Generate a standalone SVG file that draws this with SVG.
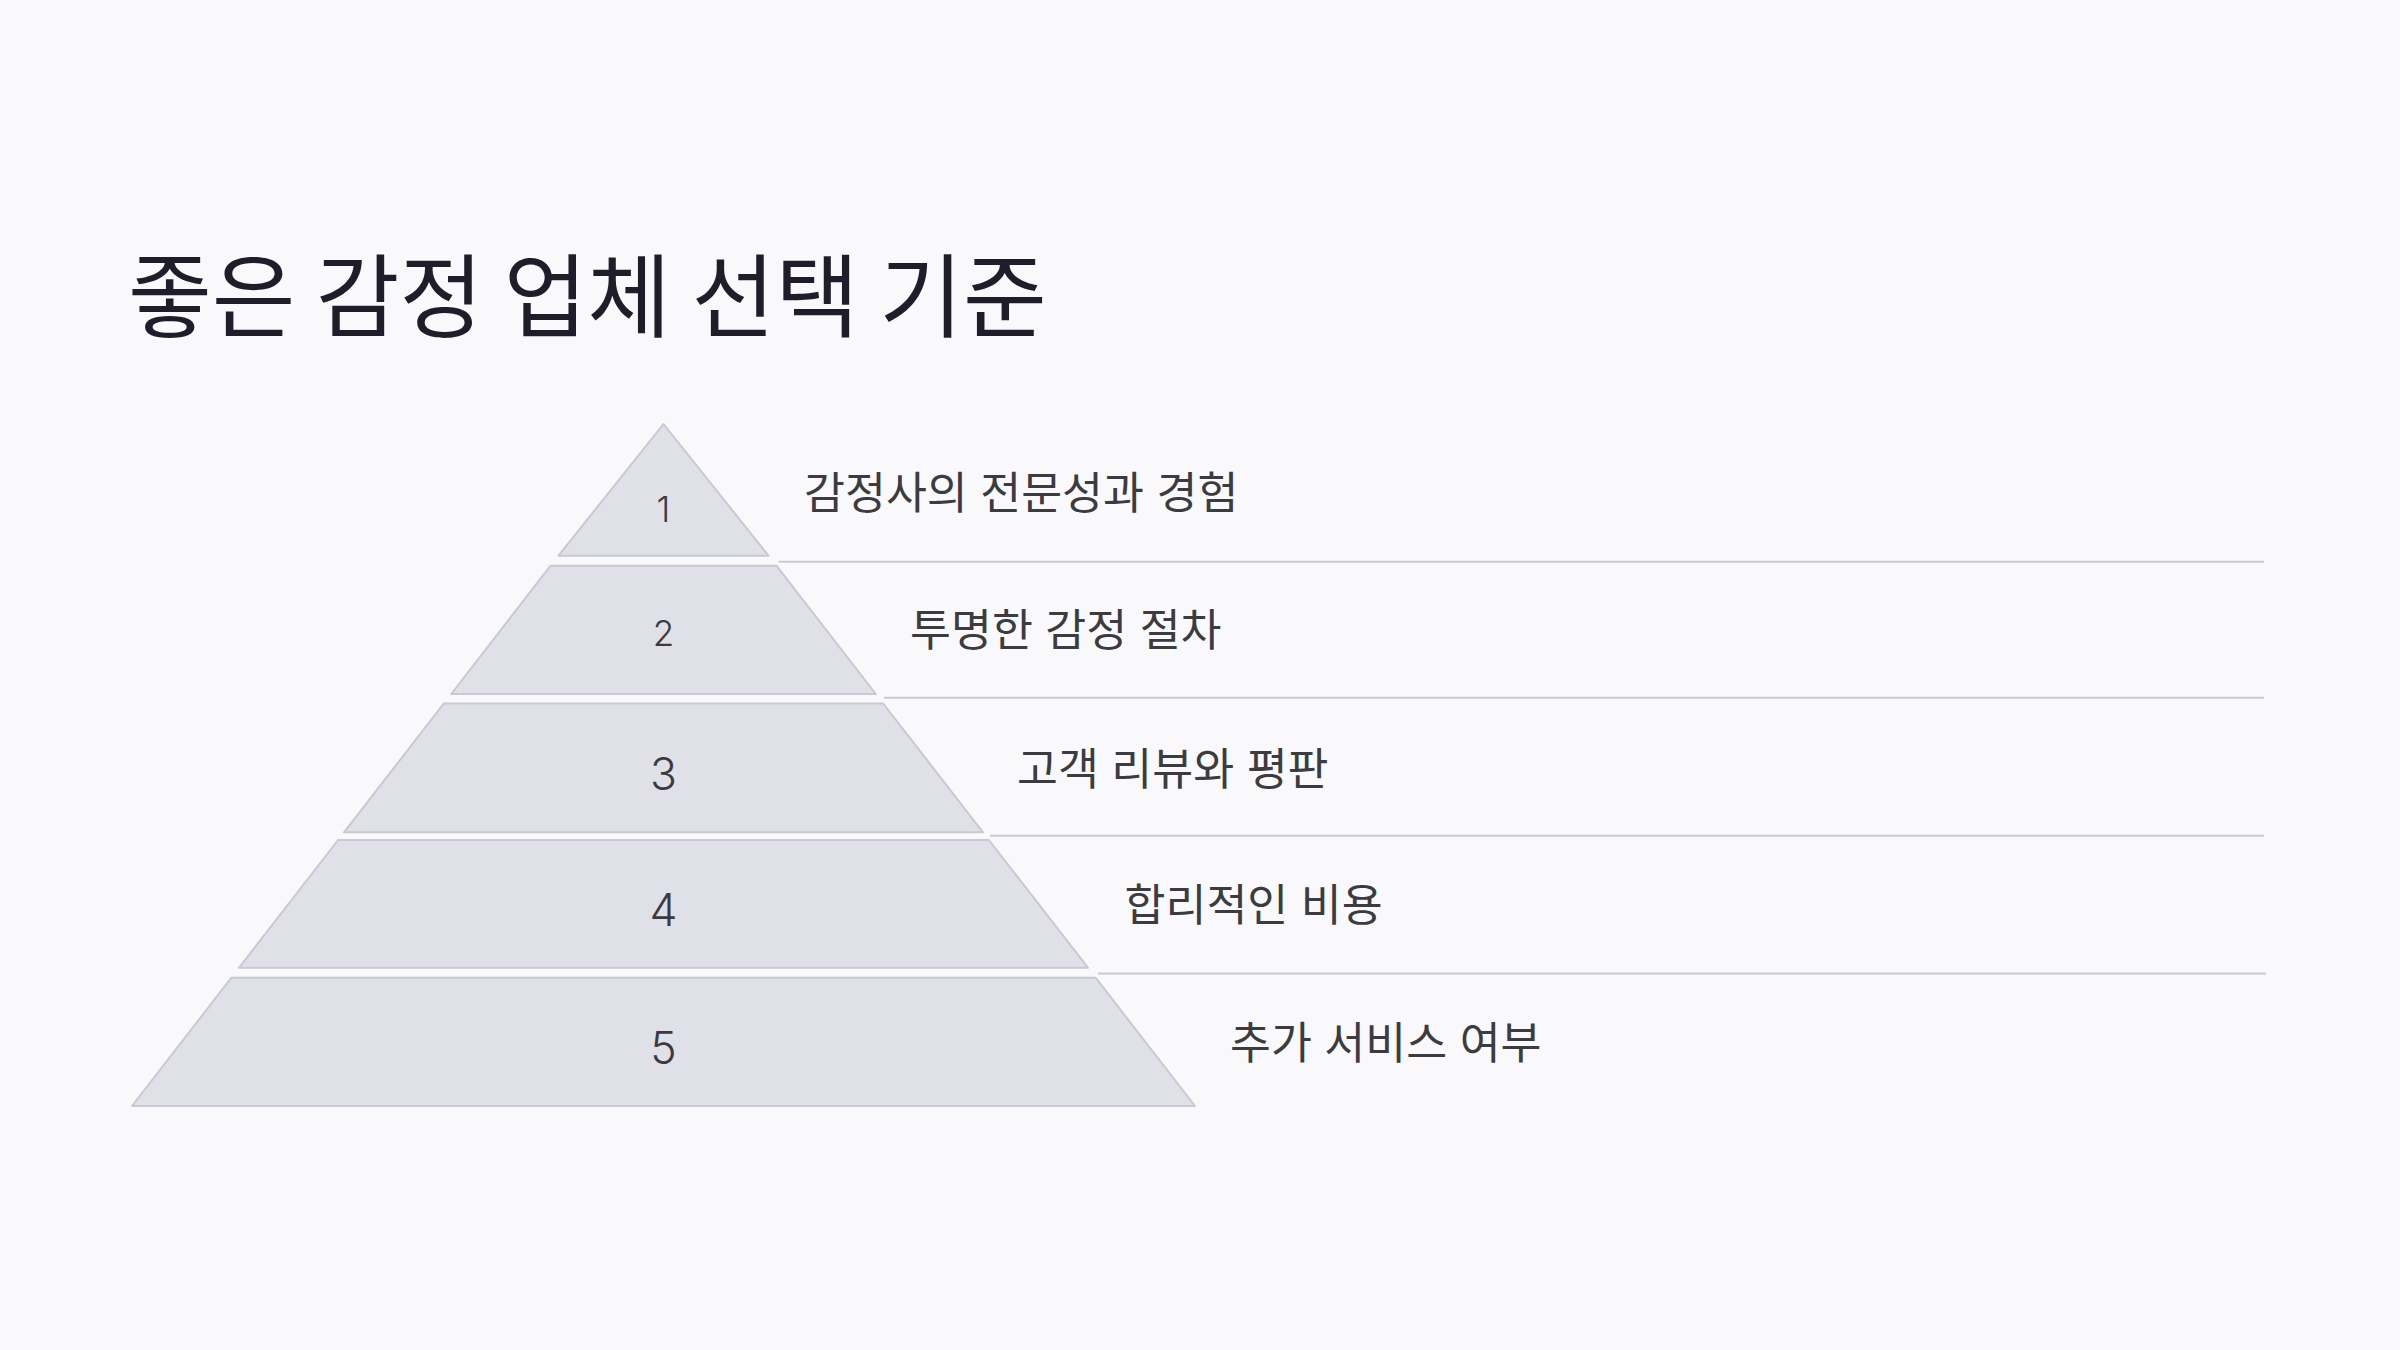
<svg xmlns="http://www.w3.org/2000/svg" width="2400" height="1350" viewBox="0 0 2400 1350">
  <style>
    .band { fill: #e0e1e8; stroke: #c8c9d1; stroke-width: 2; stroke-linejoin: round; }
    .num { font-family: Inter, "Liberation Sans", sans-serif; font-weight: 300; fill: #3a3a40; text-anchor: middle; }
    .lbl { font-family: "Noto Sans CJK KR", "Noto Sans", sans-serif; font-size: 44.5px; word-spacing: 2.5px; fill: #3b3b40; }
    .title { font-family: "Noto Sans CJK KR", "Noto Sans", sans-serif; font-size: 91px; fill: #1e1e2a; }
    .sep { stroke: #c8c9d1; stroke-width: 2; fill: none; }
  </style>
  <rect x="0" y="0" width="2400" height="1350" fill="#f9f9fb"/>
  <text class="title" x="128" y="330">좋은 감정 업체 선택 기준</text>

  <g id="connectors">
    <line class="sep" x1="778.5" y1="561.7" x2="2264" y2="561.7"/>
    <line class="sep" x1="884" y1="697.7" x2="2264" y2="697.7"/>
    <line class="sep" x1="990" y1="835.7" x2="2264" y2="835.7"/>
    <line class="sep" x1="1098" y1="973.5" x2="2266" y2="973.5"/>
  </g>

  <g id="level1">
    <polygon class="band" points="663.5,424 768.5,555.7 558.5,555.7"/>
    <text class="num" x="663.5" y="521.7" font-size="35">1</text>
    <text class="lbl" x="804" y="509">감정사의 전문성과 경험</text>
  </g>
  <g id="level2">
    <polygon class="band" points="550.6,565.7 776.4,565.7 875.8,694 451.2,694"/>
    <text class="num" x="663.5" y="645.7" font-size="35">2</text>
    <text class="lbl" x="910" y="646">투명한 감정 절차</text>
  </g>
  <g id="level3">
    <polygon class="band" points="443.8,703.5 883.2,703.5 983,832.3 344,832.3"/>
    <text class="num" x="663.5" y="790.3" font-size="44.5">3</text>
    <text class="lbl" x="1017" y="784.5">고객 리뷰와 평판</text>
  </g>
  <g id="level4">
    <polygon class="band" points="338.1,840 988.9,840 1087.9,967.7 239.1,967.7"/>
    <text class="num" x="663.5" y="925.5" font-size="44.5">4</text>
    <text class="lbl" x="1124.5" y="920.5">합리적인 비용</text>
  </g>
  <g id="level5">
    <polygon class="band" points="231.4,977.7 1095.6,977.7 1195,1106 132,1106"/>
    <text class="num" x="663.5" y="1063.5" font-size="44.5">5</text>
    <text class="lbl" x="1230" y="1058.5">추가 서비스 여부</text>
  </g>
</svg>
